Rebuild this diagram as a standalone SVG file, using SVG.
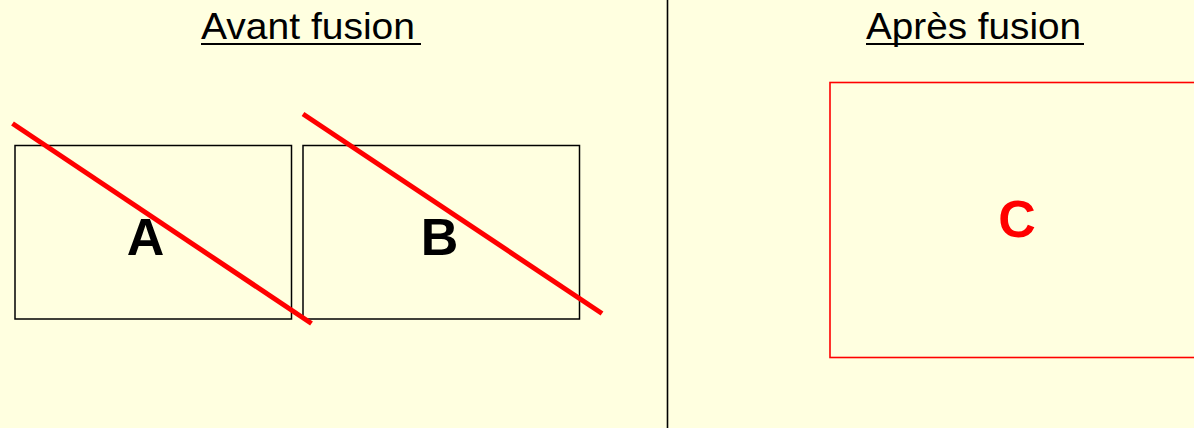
<svg xmlns="http://www.w3.org/2000/svg" width="1194" height="428" viewBox="0 0 1194 428">
<style>
.title{font-family:"Liberation Sans",Arial,sans-serif;font-size:36px;fill:#000;}
.ul{stroke:#000;stroke-width:2;}
.box{fill:none;stroke:#000;stroke-width:1.5;}
.lbl{font-family:"Liberation Sans",Arial,sans-serif;font-size:52px;font-weight:bold;text-anchor:middle;}
.strike{stroke:#ff0000;stroke-width:5;}
</style>
<rect width="1194" height="428" fill="#FFFFE0"/>
<g id="divider"><line x1="667.5" y1="0" x2="667.5" y2="428" stroke="#000" stroke-width="1.6"/></g>
<g id="title-avant">
<text class="title" x="201" y="38.5" textLength="214" lengthAdjust="spacingAndGlyphs">Avant fusion</text>
<line class="ul" x1="201" y1="44" x2="421" y2="44"/>
</g>
<g id="title-apres">
<text class="title" x="866" y="38.5" textLength="215" lengthAdjust="spacingAndGlyphs">Après fusion</text>
<line class="ul" x1="866" y1="44" x2="1084" y2="44"/>
</g>
<g id="node-A">
<rect class="box" x="15" y="145.5" width="276.5" height="173.5"/>
<text class="lbl" x="145.5" y="255" fill="#000">A</text>
</g>
<g id="node-B">
<rect class="box" x="303" y="145.5" width="276.5" height="173.5"/>
<text class="lbl" x="439.5" y="254.5" fill="#000">B</text>
</g>
<g id="node-C">
<rect x="830" y="82.5" width="380" height="275" fill="none" stroke="#ff0000" stroke-width="1.6"/>
<text class="lbl" x="1017" y="237" fill="#ff0000">C</text>
</g>
<g id="connectors">
<line class="strike" x1="12.5" y1="123.5" x2="311.5" y2="323.5"/>
<line class="strike" x1="303" y1="114" x2="602" y2="313.5"/>
</g>
</svg>
